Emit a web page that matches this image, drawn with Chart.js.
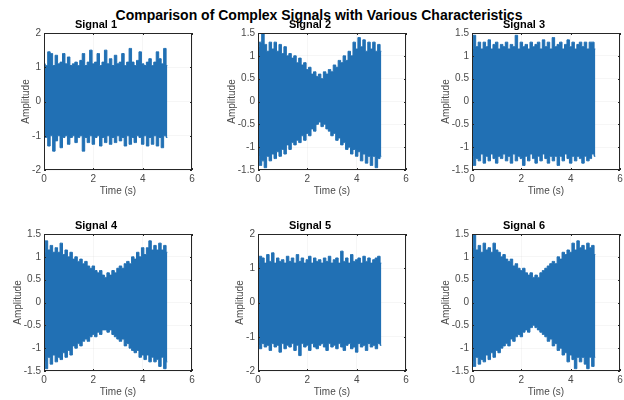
<!DOCTYPE html>
<html>
<head>
<meta charset="utf-8">
<script src="https://cdn.jsdelivr.net/npm/chart.js@4.4.0/dist/chart.umd.min.js"></script>
<style>
  body { margin: 0; background: #fff; width: 624px; height: 400px; position: relative; overflow: hidden; font-family: "Liberation Sans", Arial, sans-serif; }
  #title { position: absolute; left: 0; width: 638px; top: 8px; line-height: 14px; text-align: center; font-weight: bold; font-size: 14px; color: #000; }
  canvas { position: absolute; }
</style>
</head>
<body>
<div id="title">Comparison of Complex Signals with Various Characteristics</div>
<canvas id="sig1" width="202" height="187" style="left:0px;top:13px"></canvas>
<canvas id="sig2" width="202" height="187" style="left:214px;top:13px"></canvas>
<canvas id="sig3" width="202" height="187" style="left:428px;top:13px"></canvas>
<canvas id="sig4" width="202" height="187" style="left:0px;top:214px"></canvas>
<canvas id="sig5" width="202" height="187" style="left:214px;top:214px"></canvas>
<canvas id="sig6" width="202" height="187" style="left:428px;top:214px"></canvas>
<script>
// time samples (s)
const time = [0, 0.1, 0.2, 0.3, 0.4, 0.5, 0.6, 0.7, 0.8, 0.9,
  1, 1.1, 1.2, 1.3, 1.4, 1.5, 1.6, 1.7, 1.8, 1.9,
  2, 2.1, 2.2, 2.3, 2.4, 2.5, 2.6, 2.7, 2.8, 2.9,
  3, 3.1, 3.2, 3.3, 3.4, 3.5, 3.6, 3.7, 3.8, 3.9,
  4, 4.1, 4.2, 4.3, 4.4, 4.5, 4.6, 4.7, 4.8, 4.9, 5];

// upper / lower envelope of each signal
const sig1Upper = [1.1, 1.05, 1.45, 1.4, 1.05, 1.35, 1.1, 1.15, 1.4, 1.1, 1.3, 1.05, 1.1, 1.15, 1.05, 1.2, 1.4, 1.05, 1.15, 1.5, 1.1, 1.15, 1.4, 1.05, 1.15, 1.5, 1.1, 1.25, 1.05, 1.35, 1.1, 1.15, 1.4, 1.05, 1.15, 1.55, 1.15, 1.05, 1.2, 1.45, 1.1, 1.05, 1.15, 1.25, 1.05, 1.15, 1.45, 1.25, 1.1, 1.55, 1.05];
const sig1Lower = [-1.0, -1.05, -1.3, -1.0, -1.45, -1.15, -1.0, -1.35, -1.05, -1.0, -1.25, -1.05, -1.0, -1.2, -1.05, -1.0, -1.45, -1.05, -1.2, -1.0, -1.25, -1.05, -1.0, -1.3, -1.05, -1.2, -1.0, -1.25, -1.05, -1.2, -1.0, -1.15, -1.05, -1.3, -1.0, -1.25, -1.05, -1.2, -1.0, -1.05, -1.25, -1.0, -1.3, -1.05, -1.25, -1.0, -1.3, -1.05, -1.35, -1.0, -1.05];

const sig2Upper = [1.2, 1.3, 1.5, 1.25, 1.1, 1.3, 1.15, 1.3, 1.1, 1.25, 1.05, 1.2, 1.0, 1.05, 0.95, 1.0, 0.85, 0.95, 0.8, 0.85, 0.7, 0.75, 0.6, 0.65, 0.55, 0.6, 0.5, 0.65, 0.6, 0.7, 0.65, 0.8, 0.75, 0.9, 0.85, 1.0, 0.9, 1.1, 1.0, 1.3, 1.15, 1.4, 1.2, 1.35, 1.1, 1.3, 1.15, 1.3, 1.1, 1.25, 1.1];
const sig2Lower = [-1.2, -1.4, -1.3, -1.45, -1.2, -1.3, -1.15, -1.25, -1.1, -1.2, -1.05, -1.15, -0.95, -1.05, -0.9, -0.95, -0.85, -0.9, -0.75, -0.85, -0.7, -0.75, -0.6, -0.65, -0.5, -0.45, -0.55, -0.5, -0.6, -0.65, -0.75, -0.7, -0.85, -0.8, -0.95, -0.9, -1.05, -1.0, -1.15, -1.05, -1.2, -1.1, -1.3, -1.15, -1.35, -1.2, -1.4, -1.2, -1.45, -1.25, -1.2];

const sig3Upper = [1.15, 1.45, 1.2, 1.3, 1.15, 1.3, 1.2, 1.35, 1.15, 1.25, 1.3, 1.15, 1.25, 1.2, 1.3, 1.15, 1.25, 1.2, 1.45, 1.15, 1.3, 1.2, 1.25, 1.15, 1.3, 1.2, 1.25, 1.3, 1.15, 1.35, 1.2, 1.3, 1.15, 1.4, 1.2, 1.25, 1.3, 1.15, 1.25, 1.35, 1.2, 1.3, 1.15, 1.25, 1.3, 1.2, 1.3, 1.15, 1.3, 1.3, 1.15];
const sig3Lower = [-1.2, -1.4, -1.25, -1.3, -1.15, -1.35, -1.2, -1.3, -1.15, -1.25, -1.35, -1.2, -1.25, -1.15, -1.3, -1.2, -1.35, -1.15, -1.3, -1.2, -1.25, -1.4, -1.2, -1.3, -1.15, -1.25, -1.35, -1.2, -1.3, -1.15, -1.25, -1.35, -1.2, -1.3, -1.2, -1.4, -1.2, -1.3, -1.15, -1.25, -1.35, -1.2, -1.3, -1.2, -1.25, -1.35, -1.2, -1.3, -1.25, -1.15, -1.2];

const sig4Upper = [1.1, 1.35, 1.15, 1.25, 1.1, 1.2, 1.1, 1.3, 1.05, 1.15, 1.0, 1.1, 0.95, 1.0, 0.9, 0.95, 0.85, 0.9, 0.8, 0.75, 0.8, 0.7, 0.65, 0.7, 0.6, 0.55, 0.65, 0.6, 0.7, 0.65, 0.75, 0.8, 0.75, 0.85, 0.9, 0.85, 1.0, 0.95, 1.1, 1.0, 1.2, 1.05, 1.2, 1.35, 1.15, 1.25, 1.15, 1.3, 1.15, 1.25, 1.1];
const sig4Lower = [-1.3, -1.45, -1.2, -1.35, -1.15, -1.3, -1.2, -1.25, -1.1, -1.2, -1.05, -1.15, -0.95, -1.0, -0.9, -0.95, -0.85, -0.8, -0.85, -0.75, -0.7, -0.75, -0.65, -0.7, -0.6, -0.6, -0.65, -0.6, -0.7, -0.75, -0.8, -0.85, -0.8, -0.95, -0.9, -1.0, -1.05, -1.1, -1.05, -1.2, -1.15, -1.25, -1.15, -1.3, -1.2, -1.3, -1.25, -1.4, -1.2, -1.45, -1.3];

const sig5Upper = [1.15, 1.35, 1.3, 1.15, 1.4, 1.2, 1.45, 1.15, 1.3, 1.2, 1.25, 1.15, 1.35, 1.2, 1.3, 1.15, 1.4, 1.2, 1.3, 1.15, 1.25, 1.35, 1.15, 1.3, 1.2, 1.25, 1.15, 1.3, 1.2, 1.35, 1.15, 1.25, 1.3, 1.15, 1.5, 1.2, 1.3, 1.15, 1.4, 1.2, 1.25, 1.3, 1.15, 1.35, 1.2, 1.3, 1.15, 1.25, 1.3, 1.35, 1.15];
const sig5Lower = [-1.25, -1.35, -1.2, -1.3, -1.25, -1.4, -1.2, -1.3, -1.25, -1.45, -1.2, -1.35, -1.25, -1.3, -1.2, -1.4, -1.25, -1.55, -1.2, -1.3, -1.25, -1.4, -1.2, -1.3, -1.35, -1.25, -1.2, -1.3, -1.4, -1.2, -1.3, -1.25, -1.35, -1.2, -1.3, -1.4, -1.25, -1.2, -1.35, -1.3, -1.45, -1.2, -1.3, -1.25, -1.4, -1.2, -1.3, -1.25, -1.35, -1.2, -1.25];

const sig6Upper = [1.2, 1.5, 1.15, 1.25, 1.1, 1.3, 1.15, 1.2, 1.1, 1.3, 1.15, 1.1, 1.0, 1.05, 0.95, 0.9, 0.95, 0.8, 0.85, 0.75, 0.7, 0.75, 0.65, 0.6, 0.65, 0.55, 0.6, 0.55, 0.65, 0.7, 0.75, 0.8, 0.85, 0.9, 0.85, 1.0, 0.95, 1.1, 1.05, 1.15, 1.1, 1.3, 1.15, 1.35, 1.2, 1.25, 1.15, 1.3, 1.2, 1.25, 1.05];
const sig6Lower = [-1.3, -1.4, -1.2, -1.35, -1.25, -1.3, -1.15, -1.25, -1.1, -1.2, -1.05, -1.1, -1.0, -0.95, -0.9, -0.95, -0.8, -0.85, -0.75, -0.7, -0.75, -0.65, -0.6, -0.65, -0.55, -0.5, -0.55, -0.6, -0.65, -0.7, -0.75, -0.85, -0.8, -0.95, -0.9, -1.05, -1.0, -1.15, -1.1, -1.3, -1.15, -1.25, -1.45, -1.2, -1.3, -1.2, -1.35, -1.45, -1.2, -1.4, -1.2];

const xTicks = [0, 2, 4, 6];
const titles = ["Signal 1", "Signal 2", "Signal 3", "Signal 4", "Signal 5", "Signal 6"];
const yLimit = [2, 1.5, 1.5, 1.5, 2, 1.5];
const yStep = [1, 0.5, 0.5, 0.5, 1, 0.5];

const lineColor = "#2170b4";
const axisColor = "#262626";
const labelColor = "#4a4a4a";
const fontFamily = "'Liberation Sans', Arial, sans-serif";

// box around the axes with MATLAB style inward ticks
const framePlugin = {
  id: "frame",
  afterDraw(chart) {
    const ctx = chart.ctx;
    const a = chart.chartArea;
    const x = chart.scales.x;
    const y = chart.scales.y;
    ctx.save();
    ctx.strokeStyle = axisColor;
    ctx.lineWidth = 1;
    ctx.beginPath();
    x.ticks.forEach((t) => {
      const px = Math.round(x.getPixelForValue(t.value)) + 0.5;
      ctx.moveTo(px, a.bottom);
      ctx.lineTo(px, a.bottom - 2);
      ctx.moveTo(px, a.top);
      ctx.lineTo(px, a.top + 2);
    });
    y.ticks.forEach((t) => {
      const py = Math.round(y.getPixelForValue(t.value)) + 0.5;
      ctx.moveTo(a.left, py);
      ctx.lineTo(a.left + 2, py);
      ctx.moveTo(a.right, py);
      ctx.lineTo(a.right - 2, py);
    });
    ctx.stroke();
    ctx.strokeRect(a.left + 0.5, a.top + 0.5, a.right - a.left - 1, a.bottom - a.top - 1);
    ctx.restore();
  },
};

function makePanel(canvasId, idx, upper, lower) {
  const ctx = document.getElementById(canvasId).getContext("2d");
  const lim = yLimit[idx];
  return new Chart(ctx, {
    type: "line",
    data: {
      datasets: [
        {
          data: time.map((t, i) => ({ x: t, y: upper[i] })),
          borderColor: lineColor,
          backgroundColor: lineColor,
          borderWidth: 1,
          pointRadius: 0,
          stepped: "middle",
          fill: "+1",
        },
        {
          data: time.map((t, i) => ({ x: t, y: lower[i] })),
          borderColor: lineColor,
          backgroundColor: lineColor,
          borderWidth: 1,
          pointRadius: 0,
          stepped: "middle",
          fill: false,
        },
      ],
    },
    options: {
      responsive: false,
      animation: false,
      layout: { padding: { left: 0, right: 10, top: 0, bottom: 0 } },
      plugins: {
        legend: { display: false },
        tooltip: { enabled: false },
        title: {
          display: true,
          text: titles[idx],
          color: "#000",
          font: { family: fontFamily, size: 11, weight: "bold", lineHeight: 1 },
          padding: { top: 6, bottom: 3 },
        },
      },
      scales: {
        x: {
          type: "linear",
          min: 0,
          max: 6,
          afterBuildTicks: (scale) => {
            scale.ticks = xTicks.map((v) => ({ value: v }));
          },
          afterFit: (scale) => {
            scale.height = 30;
          },
          ticks: {
            padding: 3,
            color: labelColor,
            font: { family: fontFamily, size: 10 },
            maxRotation: 0,
          },
          grid: { color: "rgba(0,0,0,0.035)", drawTicks: false },
          border: { display: false },
          title: {
            display: true,
            text: "Time (s)",
            color: labelColor,
            font: { family: fontFamily, size: 10, lineHeight: 1 },
            padding: { top: 0, bottom: 3.5 },
          },
        },
        y: {
          min: -lim,
          max: lim,
          afterFit: (scale) => {
            scale.width = 44;
          },
          ticks: {
            stepSize: yStep[idx],
            padding: 3,
            color: labelColor,
            font: { family: fontFamily, size: 10 },
            callback: (v) => String(Math.round(v * 10) / 10),
          },
          grid: { color: "rgba(0,0,0,0.035)", drawTicks: false },
          border: { display: false },
          title: {
            display: true,
            text: "Amplitude",
            color: labelColor,
            font: { family: fontFamily, size: 10, lineHeight: 1.2 },
            padding: { top: lim === 2 ? 20 : 12, bottom: 0 },
          },
        },
      },
    },
    plugins: [framePlugin],
  });
}

makePanel("sig1", 0, sig1Upper, sig1Lower);
makePanel("sig2", 1, sig2Upper, sig2Lower);
makePanel("sig3", 2, sig3Upper, sig3Lower);
makePanel("sig4", 3, sig4Upper, sig4Lower);
makePanel("sig5", 4, sig5Upper, sig5Lower);
makePanel("sig6", 5, sig6Upper, sig6Lower);
</script>
</body>
</html>
